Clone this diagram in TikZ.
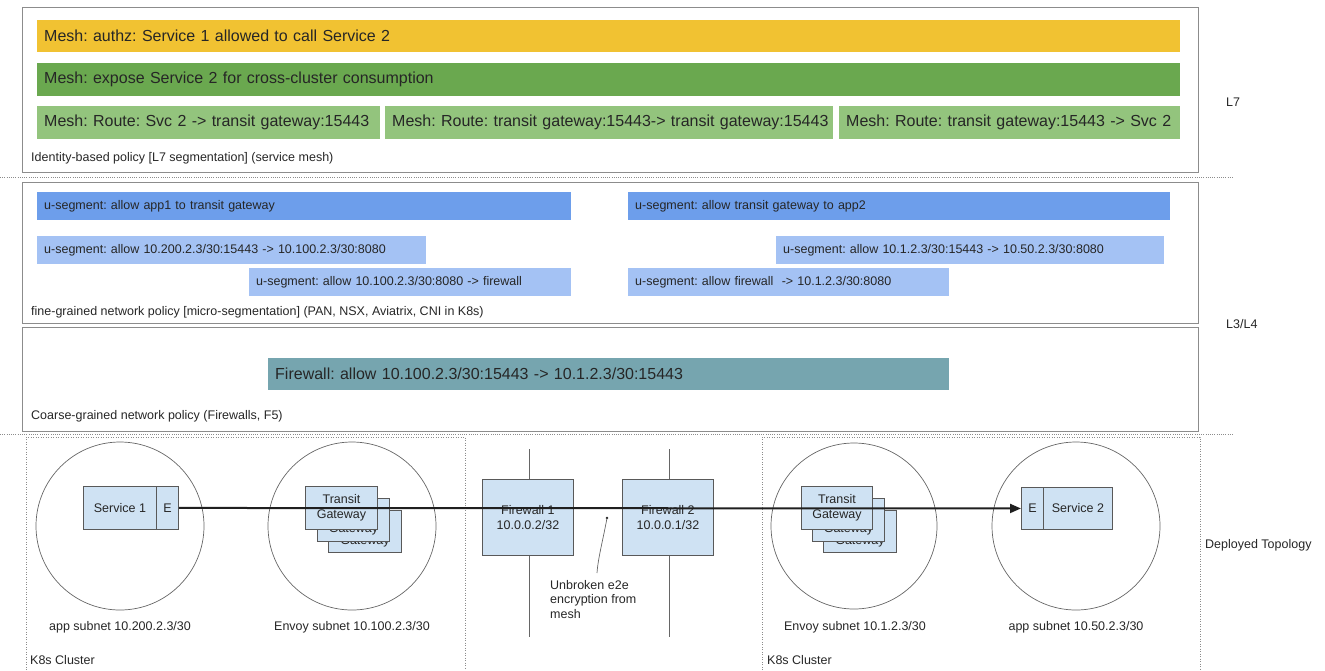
\documentclass[tikz,border=0pt]{standalone}
\usepackage{fontspec}
\setmainfont{Liberation Sans}
\usetikzlibrary{arrows.meta}
\frenchspacing
\definecolor{yellowc}{HTML}{F1C232}
\definecolor{greenc}{HTML}{6AA84F}
\definecolor{lgreenc}{HTML}{93C47D}
\definecolor{dbluec}{HTML}{6D9EEB}
\definecolor{lbluec}{HTML}{A4C2F4}
\definecolor{tealc}{HTML}{76A5AF}
\definecolor{compfill}{HTML}{CFE2F3}
\definecolor{compc}{HTML}{595959}
\definecolor{panelc}{HTML}{8C8C8C}
\definecolor{sepc}{HTML}{8C8C8C}
\definecolor{circc}{HTML}{666666}
\definecolor{flowc}{HTML}{1F1F1F}
\definecolor{txt}{HTML}{262626}
\newcommand{\hiddentg}{\smash{\raisebox{-13pt}{\shortstack{Transit\\Gateway}}}}
\begin{document}
\begin{tikzpicture}[x=1pt,y=-1pt,
  every node/.style={font=\fontsize{12.5}{14.5}\selectfont, text=txt},
  bar/.style={anchor=north west, inner xsep=7pt, inner ysep=0pt, align=left},
  big/.style={font=\fontsize{16}{19}\selectfont},
  panel/.style={draw=panelc, line width=1pt},
  sep/.style={draw=sepc, line width=0.8pt, dash pattern=on 1pt off 1.2pt},
  cluster/.style={draw=sepc, line width=0.8pt, dash pattern=on 1pt off 1.5pt},
  subnet/.style={draw=circc, line width=0.7pt, circle, inner sep=0pt},
  comp/.style={draw=compc, fill=compfill, line width=0.9pt, inner sep=0pt, align=center, anchor=north west},
  wire/.style={draw=circc, line width=0.8pt},
  flow/.style={draw=flowc, line width=2pt, -{Triangle[length=11pt,width=9pt]}},
  lbl/.style={anchor=west, inner sep=0pt},
]
\useasboundingbox (0,0) rectangle (1325,670);

% ---------- L7 panel ----------
\draw[panel] (22,7) rectangle (1198,172);
\node[bar, big, fill=yellowc, text width=1129pt, minimum height=32pt] (authz) at (37,20) {\mbox{Mesh: authz: Service 1 allowed to call Service 2}};
\node[bar, big, fill=greenc, text width=1129pt, minimum height=33pt] (expose) at (37,63) {\mbox{Mesh: expose Service 2 for cross-cluster consumption}};
\node[bar, big, fill=lgreenc, text width=329pt, minimum height=33pt] (route1) at (37,106) {\mbox{Mesh: Route: Svc 2 -> transit gateway:15443}};
\node[bar, big, fill=lgreenc, text width=434pt, minimum height=33pt] (route2) at (385,106) {\mbox{Mesh: Route: transit gateway:15443-> transit gateway:15443}};
\node[bar, big, fill=lgreenc, text width=327pt, minimum height=33pt] (route3) at (839,106) {\mbox{Mesh: Route: transit gateway:15443 -> Svc 2}};
\node[lbl] (l7cap) at (31,158) {Identity-based policy [L7 segmentation] (service mesh)};

\draw[sep] (0,177) -- (1233,177);
\node[lbl] (l7) at (1226,102) {L7};

% ---------- fine-grained panel ----------
\draw[panel] (22,182) rectangle (1198,323);
\node[bar, fill=dbluec, text width=520pt, minimum height=28pt] (useg1) at (37,192) {\mbox{u-segment: allow app1 to transit gateway}};
\node[bar, fill=dbluec, text width=528pt, minimum height=28pt] (useg2) at (628,192) {\mbox{u-segment: allow transit gateway to app2}};
\node[bar, fill=lbluec, text width=375pt, minimum height=28pt] (useg3) at (37,236) {\mbox{u-segment: allow 10.200.2.3/30:15443 -> 10.100.2.3/30:8080}};
\node[bar, fill=lbluec, text width=308pt, minimum height=28pt] (useg4) at (249,268) {\mbox{u-segment: allow 10.100.2.3/30:8080 -> firewall}};
\node[bar, fill=lbluec, text width=374pt, minimum height=28pt] (useg5) at (776,236) {\mbox{u-segment: allow 10.1.2.3/30:15443 -> 10.50.2.3/30:8080}};
\node[bar, fill=lbluec, text width=307pt, minimum height=28pt] (useg6) at (628,268) {\mbox{u-segment: allow firewall \ -> 10.1.2.3/30:8080}};
\node[lbl] (finecap) at (31,312) {fine-grained network policy [micro-segmentation] (PAN, NSX, Aviatrix, CNI in K8s)};

% ---------- coarse panel ----------
\draw[panel] (22,327) rectangle (1198,431);
\node[bar, big, fill=tealc, text width=667pt, minimum height=32pt] (fwrule) at (268,358) {\mbox{Firewall: allow 10.100.2.3/30:15443 -> 10.1.2.3/30:15443}};
\node[lbl] (coarsecap) at (31,416) {Coarse-grained network policy (Firewalls, F5)};

\draw[sep] (0,434) -- (1233,434);
\node[lbl] (l34) at (1226,324) {L3/L4};

% ---------- deployed topology ----------
\draw[cluster] (26,670) -- (26,437) -- (465,437) -- (465,670);
\draw[cluster] (762,670) -- (762,437) -- (1200,437) -- (1200,670);
\node[lbl] (k8s1) at (30,660) {K8s Cluster};
\node[lbl] (k8s2) at (767,660) {K8s Cluster};
\node[lbl] (deployed) at (1205,545) {Deployed Topology};

\node[subnet, minimum size=168pt] (c1) at (120,526) {};
\node[subnet, minimum size=168pt] (c2) at (352,526) {};
\node[subnet, minimum size=166pt] (c3) at (854,526) {};
\node[subnet, minimum size=168pt] (c4) at (1076,526) {};
\node (s1) at (120,627) {app subnet 10.200.2.3/30};
\node (s2) at (352,627) {Envoy subnet 10.100.2.3/30};
\node (s3) at (855,627) {Envoy subnet 10.1.2.3/30};
\node (s4) at (1076,627) {app subnet 10.50.2.3/30};

% firewall wires
\coordinate (fw1t) at (529,449);
\coordinate (fw1b) at (529,637);
\coordinate (fw2t) at (669,449);
\coordinate (fw2b) at (669,637);
\draw[wire] (fw1t) -- (fw1b);
\draw[wire] (fw2t) -- (fw2b);

% components
\node[comp, minimum width=73pt, minimum height=43pt] (svc1) at (83,486) {Service 1};
\node[comp, minimum width=22pt, minimum height=43pt] (e1) at (156,486) {E};
\node[comp, minimum width=22pt, minimum height=42pt] (e2) at (1021,487) {E};
\node[comp, minimum width=69pt, minimum height=42pt] (svc2) at (1043,487) {Service 2};

\node[comp, minimum width=73pt, minimum height=42pt] (tg1c) at (328,510) {\hiddentg};
\node[comp, minimum width=72pt, minimum height=43pt] (tg1b) at (317,498) {\hiddentg};
\node[comp, minimum width=72pt, minimum height=43pt] (tg1a) at (305,486) {Transit\\Gateway};
\node[comp, minimum width=73pt, minimum height=42pt] (tg2c) at (823,510) {\hiddentg};
\node[comp, minimum width=72pt, minimum height=43pt] (tg2b) at (812,498) {\hiddentg};
\node[comp, minimum width=71pt, minimum height=43pt] (tg2a) at (801,486) {Transit\\Gateway};

\node[comp, minimum width=91pt, minimum height=76pt] (fw1) at (482,479) {Firewall 1\\10.0.0.2/32};
\node[comp, minimum width=91pt, minimum height=76pt] (fw2) at (622,479) {Firewall 2\\10.0.0.1/32};

% main flow
\draw[flow] (e1.east) -- (e2.west);

% annotation
\coordinate (encdot) at (607,518);
\coordinate (enctail) at (597,573);
\fill[flowc] (encdot) circle (1.4);
\draw[wire, line width=0.7pt] (encdot) .. controls (603,540) and (598,558) .. (enctail);
\node[anchor=north west, inner sep=0pt, align=left] (enc) at (550,580) {Unbroken e2e\\encryption from\\mesh};
\end{tikzpicture}
\end{document}
